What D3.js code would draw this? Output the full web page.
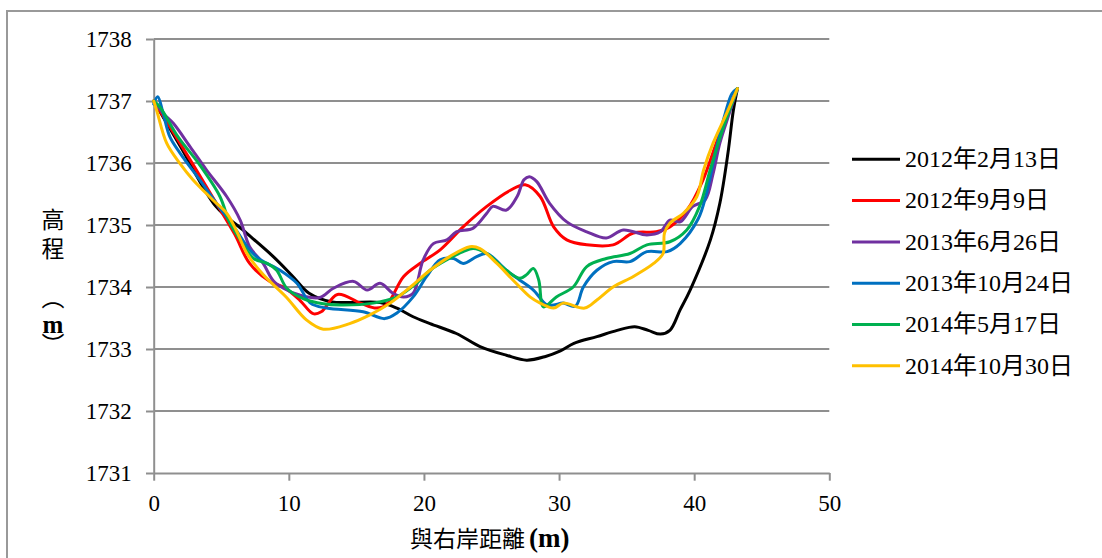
<!DOCTYPE html>
<html>
<head>
<meta charset="utf-8">
<script src="https://cdn.jsdelivr.net/npm/d3@7"></script>
<style>
  html, body { margin: 0; padding: 0; background: #fff; }
  svg { display: block; }
</style>
</head>
<body>
<svg id="chart" width="1102" height="558"></svg>
<script>
// Cross-section survey: elevation (m) versus distance from the right bank (m)
const seriesNames = ["2012年2月13日", "2012年9月9日", "2013年6月26日", "2013年10月24日", "2014年5月17日", "2014年10月30日"];
const seriesColors = ["#000000", "#FF0000", "#7030A0", "#0070C0", "#00B050", "#FFC000"];

const xTicks = [0, 10, 20, 30, 40, 50];
const yTicks = [1731, 1732, 1733, 1734, 1735, 1736, 1737, 1738];

// 2012-02-13
const dist1 = [0, 2.0, 4.6, 6.6, 8.85, 10.3, 11.5, 13.2, 14.5, 16.75, 18.0, 19.2, 20.45, 22.4, 24.15, 26.1, 27.6, 29.0, 30.1, 31.1, 32.8, 34.3, 35.6, 36.6, 37.5, 38.2, 38.96, 39.7, 41.2, 41.9, 42.5, 42.9, 43.2];
const elev1 = [1737.0, 1736.26, 1735.3, 1734.92, 1734.49, 1734.17, 1733.9, 1733.76, 1733.75, 1733.75, 1733.66, 1733.52, 1733.41, 1733.25, 1733.04, 1732.9, 1732.82, 1732.88, 1732.97, 1733.09, 1733.2, 1733.3, 1733.36, 1733.3, 1733.24, 1733.3, 1733.63, 1733.95, 1734.76, 1735.35, 1736.16, 1736.85, 1737.2];

// 2012-09-09
const dist2 = [0, 2.0, 4.5, 6.0, 7.1, 8.6, 9.6, 10.8, 11.8, 12.4, 13.6, 15.3, 16.5, 17.25, 18.5, 19.7, 21.2, 22.9, 24.65, 26.4, 27.5, 28.6, 29.6, 30.57, 32.05, 34.0, 35.5, 37.2, 38.2, 39.5, 40.6, 41.6, 42.5, 43.2];
const elev2 = [1737.0, 1736.3, 1735.4, 1734.85, 1734.38, 1734.09, 1734.0, 1733.79, 1733.57, 1733.6, 1733.88, 1733.74, 1733.66, 1733.72, 1734.17, 1734.38, 1734.6, 1734.97, 1735.3, 1735.56, 1735.65, 1735.46, 1734.97, 1734.76, 1734.68, 1734.68, 1734.87, 1734.89, 1734.97, 1735.25, 1735.7, 1736.3, 1736.85, 1737.2];

// 2013-06-26
const dist3 = [0, 0.7, 1.45, 2.7, 3.9, 5.4, 6.4, 7.1, 8.1, 8.85, 9.6, 10.8, 12.3, 13.3, 14.8, 15.8, 16.75, 17.7, 18.5, 19.2, 19.95, 20.7, 21.7, 22.4, 23.65, 24.65, 25.1, 26.1, 26.9, 27.4, 27.8, 28.35, 29.3, 30.57, 32.05, 33.5, 34.75, 36.5, 37.5, 38.2, 38.96, 39.9, 40.8, 41.4, 41.9, 42.6, 43.2];
const elev3 = [1737.0, 1736.8, 1736.64, 1736.26, 1735.89, 1735.46, 1735.08, 1734.65, 1734.38, 1734.1, 1733.98, 1733.87, 1733.83, 1733.98, 1734.09, 1733.95, 1734.06, 1733.9, 1733.84, 1733.9, 1734.44, 1734.7, 1734.76, 1734.89, 1734.95, 1735.19, 1735.3, 1735.24, 1735.46, 1735.73, 1735.78, 1735.7, 1735.35, 1735.05, 1734.89, 1734.79, 1734.92, 1734.84, 1734.89, 1735.08, 1735.05, 1735.3, 1735.4, 1735.83, 1736.32, 1736.8, 1737.2];

// 2013-10-24
const dist4 = [0, 0.3, 0.7, 1.2, 1.95, 3.4, 4.65, 6.0, 7.1, 7.9, 9.35, 10.6, 11.6, 12.8, 15.5, 17.1, 18.0, 19.2, 20.2, 21.2, 22.2, 22.9, 23.9, 24.65, 26.1, 27.1, 28.1, 29.1, 29.6, 30.3, 31.2, 31.8, 32.8, 34.0, 35.25, 36.5, 38.0, 38.96, 40.3, 40.9, 41.6, 42.3, 42.8, 43.2];
const elev4 = [1736.95, 1737.07, 1736.8, 1736.42, 1736.16, 1735.73, 1735.35, 1734.95, 1734.6, 1734.44, 1734.27, 1734.06, 1733.74, 1733.66, 1733.6, 1733.49, 1733.58, 1733.84, 1734.17, 1734.44, 1734.46, 1734.38, 1734.49, 1734.54, 1734.27, 1734.11, 1733.95, 1733.71, 1733.71, 1733.74, 1733.69, 1734.0, 1734.27, 1734.41, 1734.41, 1734.57, 1734.57, 1734.7, 1735.1, 1735.5, 1736.2, 1736.8, 1737.12, 1737.2];

// 2014-05-17
const dist5 = [0, 0.47, 1.8, 3.3, 4.9, 5.6, 6.4, 7.4, 8.4, 9.1, 9.85, 11.1, 12.55, 13.8, 16.25, 18.0, 19.45, 20.45, 21.7, 22.9, 23.65, 24.65, 26.1, 27.1, 27.6, 28.1, 28.5, 28.85, 29.8, 31.05, 32.05, 33.5, 35.25, 36.5, 38.2, 39.45, 40.4, 41.2, 42.2, 43.2];
const elev5 = [1737.0, 1736.9, 1736.42, 1736.0, 1735.46, 1735.05, 1734.76, 1734.46, 1734.38, 1734.27, 1733.98, 1733.81, 1733.73, 1733.71, 1733.74, 1733.84, 1734.06, 1734.27, 1734.44, 1734.57, 1734.62, 1734.54, 1734.27, 1734.14, 1734.2, 1734.3, 1734.11, 1733.68, 1733.84, 1734.0, 1734.33, 1734.46, 1734.54, 1734.68, 1734.73, 1734.92, 1735.3, 1735.9, 1736.6, 1737.2];

// 2014-10-30
const dist6 = [0, 0.22, 0.96, 1.95, 2.9, 4.4, 5.4, 6.1, 6.9, 8.1, 9.8, 11.3, 12.55, 14.5, 16.0, 17.5, 19.0, 20.45, 21.9, 23.4, 24.15, 25.4, 26.6, 27.85, 28.6, 29.6, 30.3, 31.9, 32.8, 34.0, 35.5, 37.0, 37.7, 37.8, 38.2, 39.2, 40.2, 40.7, 41.4, 42.4, 43.2];
const elev6 = [1737.0, 1736.85, 1736.32, 1735.99, 1735.73, 1735.4, 1735.19, 1734.92, 1734.54, 1734.2, 1733.84, 1733.47, 1733.32, 1733.41, 1733.55, 1733.74, 1734.0, 1734.27, 1734.49, 1734.65, 1734.62, 1734.38, 1734.11, 1733.84, 1733.74, 1733.66, 1733.74, 1733.66, 1733.79, 1734.0, 1734.17, 1734.38, 1734.54, 1734.87, 1735.03, 1735.19, 1735.46, 1735.89, 1736.32, 1736.8, 1737.2];

const distances = [dist1, dist2, dist3, dist4, dist5, dist6];
const elevations = [elev1, elev2, elev3, elev4, elev5, elev6];

const series = seriesNames.map((name, i) => ({
  name,
  color: seriesColors[i],
  points: distances[i].map((d, j) => [d, elevations[i][j]])
}));

const svg = d3.select("#chart");
const gridColor = "#8f8f8f";
const serif = "'Liberation Serif', 'Times New Roman', serif";
const cjk = "'Noto Sans CJK TC', 'Noto Sans CJK SC', sans-serif";

// outer chart frame
svg.append("rect")
  .attr("x", 7).attr("y", 11)
  .attr("width", 1120).attr("height", 580)
  .attr("fill", "#fff")
  .attr("stroke", "#999").attr("stroke-width", 2);

const plot = { left: 153.7, right: 829.3, top: 39, bottom: 473 };

const x = d3.scaleLinear().domain([0, 50]).range([plot.left, plot.right]);
const y = d3.scaleLinear().domain([1731, 1738]).range([plot.bottom, plot.top]);

// horizontal gridlines
svg.append("g")
  .selectAll("line")
  .data(yTicks.filter(v => v !== 1731))
  .join("line")
  .attr("x1", plot.left).attr("x2", plot.right)
  .attr("y1", d => y(d)).attr("y2", d => y(d))
  .attr("stroke", gridColor).attr("stroke-width", 2);

// y axis
const yAxis = svg.append("g")
  .attr("transform", `translate(${plot.left},0)`)
  .call(d3.axisLeft(y).tickValues(yTicks).tickFormat(d3.format("d")).tickSizeInner(7.7).tickSizeOuter(0).tickPadding(14.3));

// x axis
const xAxis = svg.append("g")
  .attr("transform", `translate(0,${plot.bottom})`)
  .call(d3.axisBottom(x).tickValues(xTicks).tickFormat(d3.format("d")).tickSizeInner(7.7).tickSizeOuter(0).tickPadding(14));

[yAxis, xAxis].forEach(g => {
  g.select(".domain").attr("stroke", gridColor).attr("stroke-width", 2);
  g.selectAll(".tick line").attr("stroke", gridColor).attr("stroke-width", 2);
  g.selectAll(".tick text")
    .attr("fill", "#000")
    .style("font-family", serif)
    .style("font-size", "23px");
});
yAxis.selectAll(".tick text").attr("dy", "0.33em");
xAxis.selectAll(".tick text").attr("dy", null).attr("y", 37.7);

// series lines
const line = d3.line()
  .x(d => x(d[0]))
  .y(d => y(d[1]))
  .curve(d3.curveCatmullRom.alpha(0.5));

svg.append("g")
  .selectAll("path")
  .data(series)
  .join("path")
  .attr("d", d => line(d.points))
  .attr("fill", "none")
  .attr("stroke", d => d.color)
  .attr("stroke-width", 3)
  .attr("stroke-linejoin", "round")
  .attr("stroke-linecap", "round");

// legend
const legend = svg.append("g");
const legendItem = legend.selectAll("g")
  .data(series)
  .join("g")
  .attr("transform", (d, i) => `translate(852,${159.3 + i * 41.3})`);
legendItem.append("line")
  .attr("x1", 0).attr("x2", 48)
  .attr("stroke", d => d.color).attr("stroke-width", 3);
legendItem.append("text")
  .attr("x", 53).attr("y", 7.8)
  .style("font-family", serif + ", " + cjk)
  .style("font-size", "24px")
  .attr("fill", "#000")
  .text(d => d.name);

// y axis title, set in vertical writing mode
const yTitle = svg.append("text")
  .attr("fill", "#000")
  .style("writing-mode", "vertical-rl")
  .style("text-orientation", "upright")
  .style("font-family", cjk)
  .style("font-size", "23px");
yTitle.append("tspan").attr("x", 53).attr("y", 208).text("高");
yTitle.append("tspan").attr("x", 53).attr("y", 236.5).text("程");
yTitle.append("tspan").attr("x", 53).attr("y", 286).text("（");
yTitle.append("tspan").attr("x", 53).attr("y", 311)
  .style("font-family", serif).style("font-size", "25px").style("font-weight", "bold").text("m");
yTitle.append("tspan").attr("x", 53).attr("y", 333).text("）");

// x axis title
const xTitle = svg.append("text").attr("x", 410).attr("y", 546.5).attr("fill", "#000");
xTitle.append("tspan").style("font-family", cjk).style("font-size", "23px").text("與右岸距離");
xTitle.append("tspan").attr("dx", 4).style("font-family", serif).style("font-size", "27px").style("font-weight", "bold").text("(m)");
</script>
</body>
</html>
